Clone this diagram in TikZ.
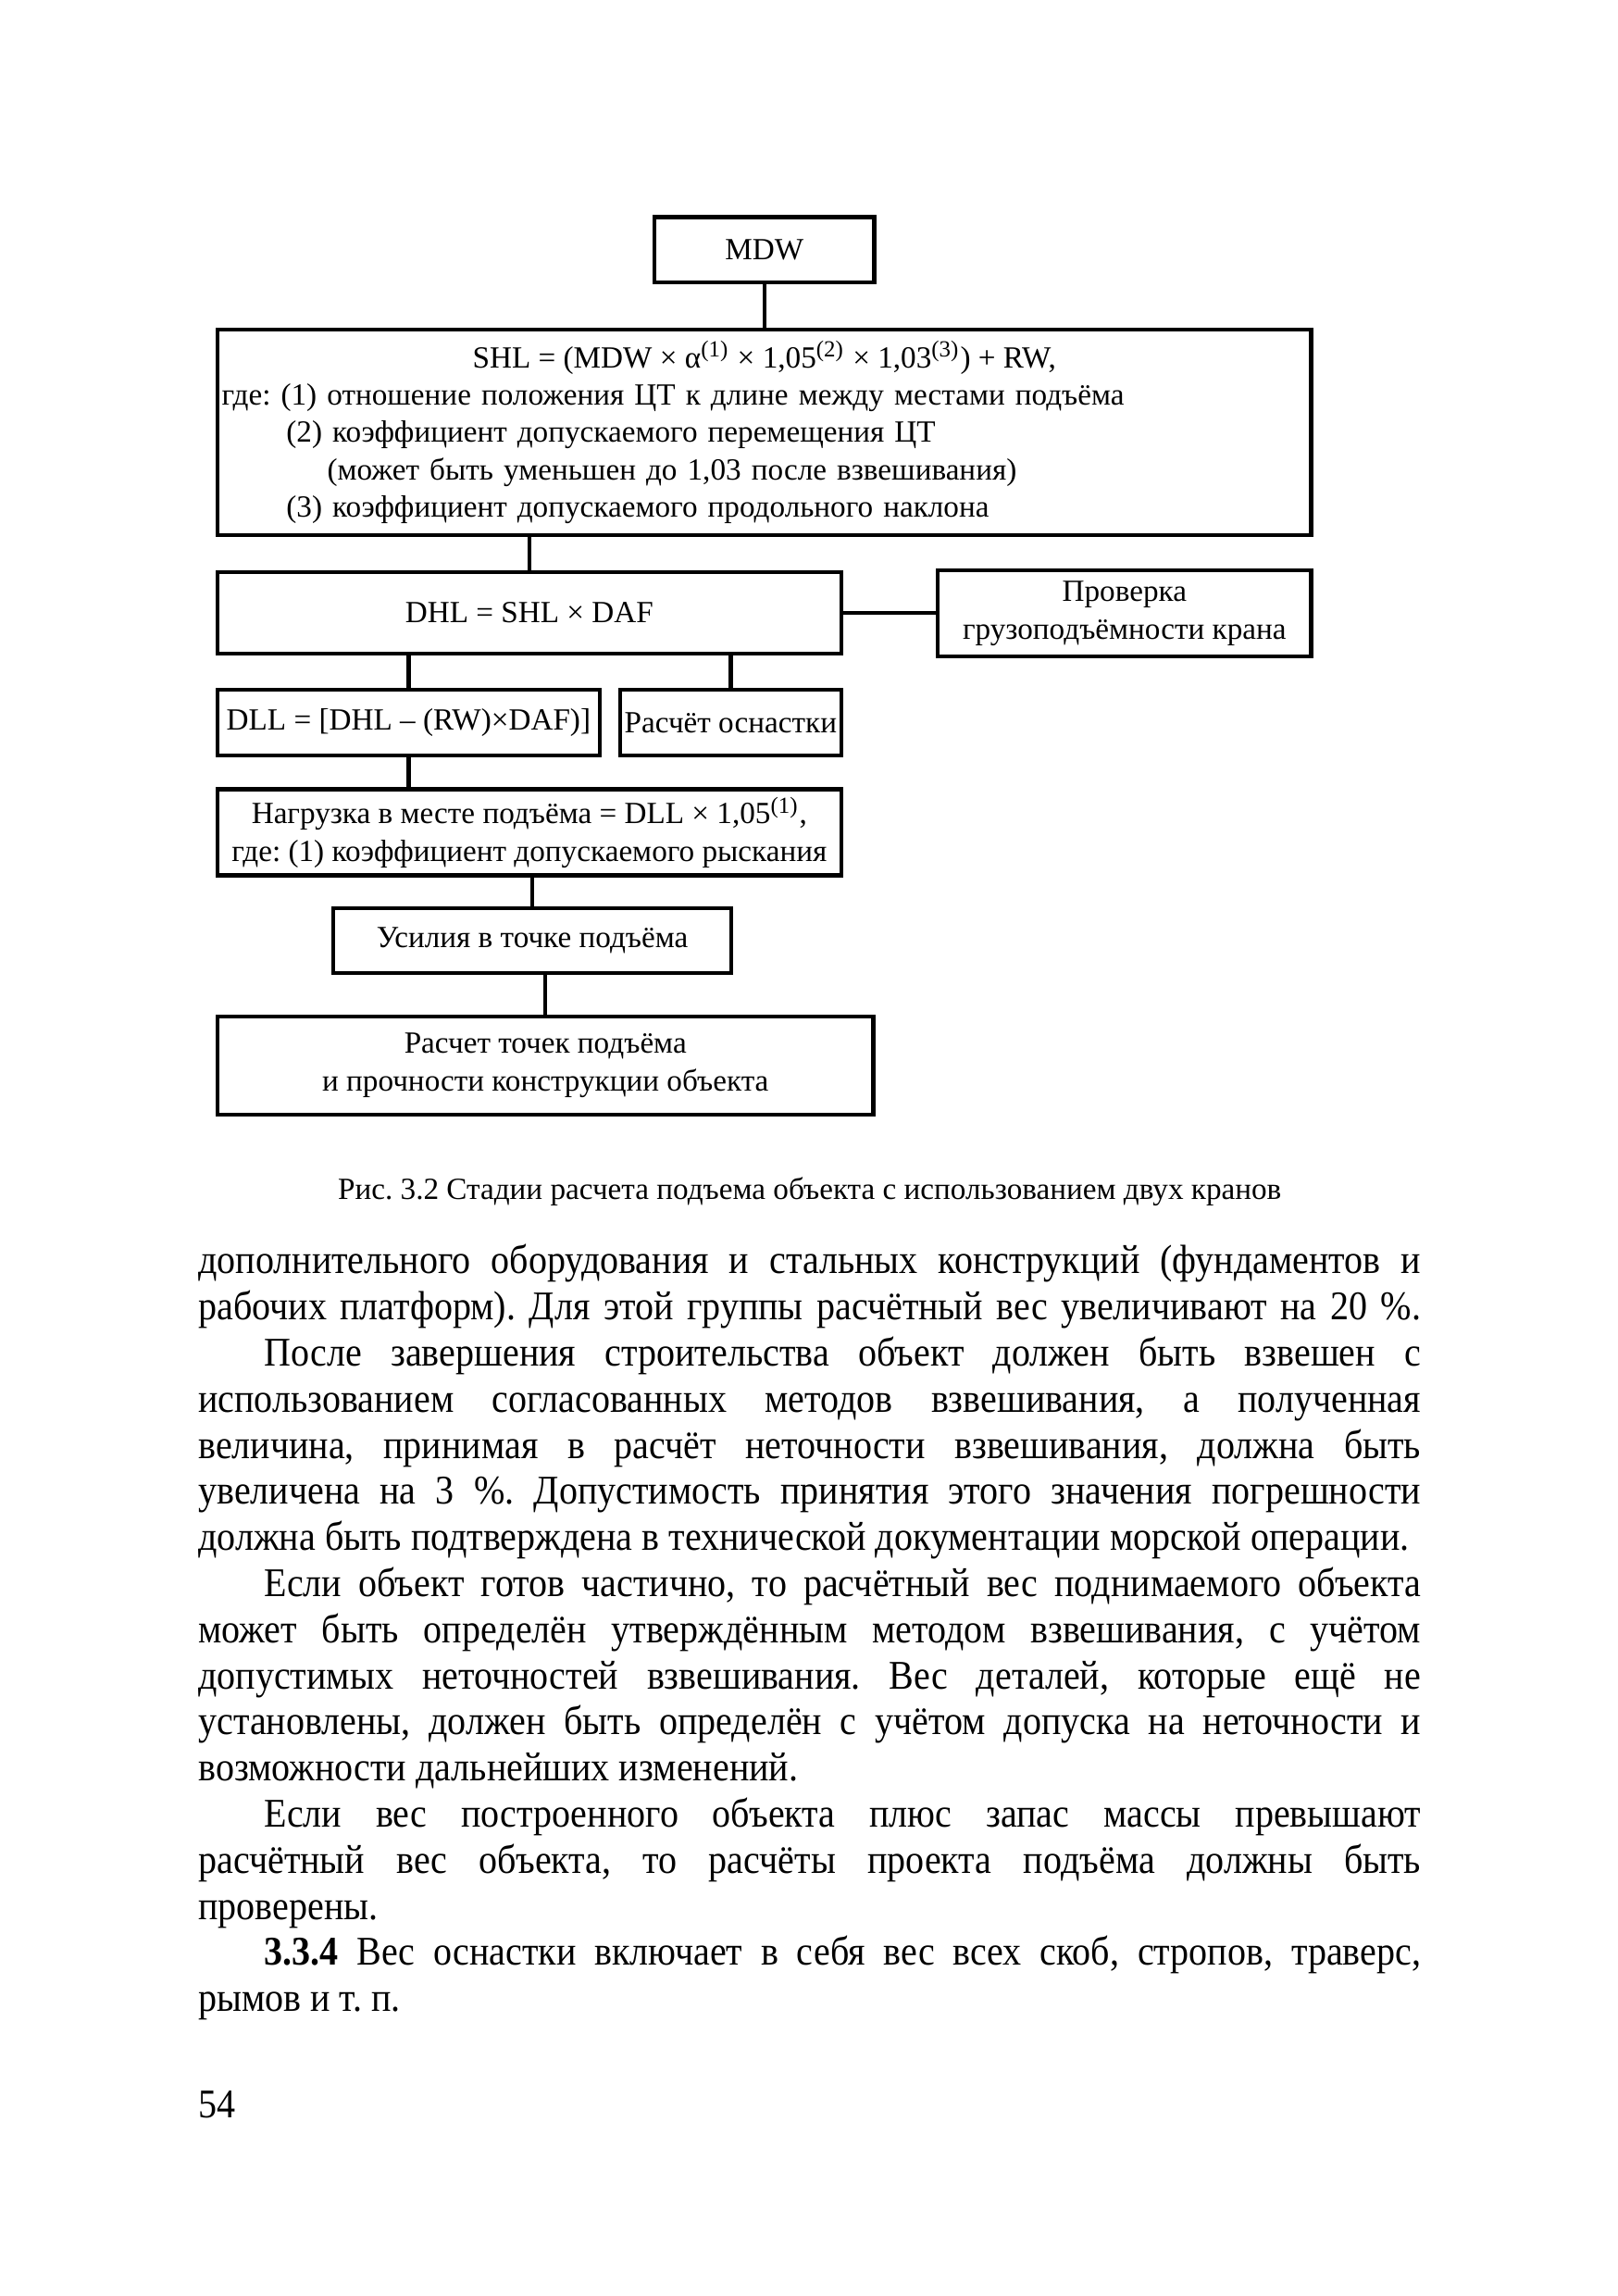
\documentclass[tikz,border=0pt]{standalone}
\usepackage{fontspec}
\setmainfont{Liberation Serif}
\newfontfamily\bodyfamily[FakeStretch=0.91]{Liberation Serif}
\usepackage{tikz}
\usetikzlibrary{positioning}
\newlength{\bodyw}
\setlength{\bodyw}{111.84mm}
\newcommand{\jline}[1]{\makebox[\bodyw][s]{\spaceskip=0pt\xspaceskip=0pt\relax #1}}
\newcommand{\pind}{\hspace*{6.03mm}}
\newcommand{\diagfont}{\fontsize{8}{9.72}\selectfont}
\frenchspacing
\tikzset{
  box/.style={
    rectangle, draw=black, line width=1.05pt,
    inner sep=0.4mm, align=center, font=\diagfont
  },
  link/.style={draw=black, line width=1.05pt},
  caption/.style={font=\fontsize{8}{10}\selectfont},
  bodytext/.style={
    text width=\bodyw, inner sep=0pt, align=justify,
    font=\bodyfamily\fontsize{10.6}{12}\selectfont
  }
}
\begin{document}
\begin{tikzpicture}[node distance=3mm]
  \useasboundingbox (0,0) rectangle (148mm,-210mm);
  % scheme
  \node[box, minimum width=20.09mm, minimum height=5.95mm] (mdw) at (69.92mm,-22.84mm) {MDW};
  \node[box, minimum width=100.05mm, minimum height=18.8mm, text width=99.25mm, align=left,
        below=3.95mm of mdw] (shl) {%
    \makebox[\linewidth]{\spaceskip=0pt\relax SHL = (MDW × α\textsuperscript{(1)} × 1,05\textsuperscript{(2)} × 1,03\textsuperscript{(3)}) + RW,}\\
    где: (1) отношение положения ЦТ к длине между местами подъёма\\
    \hspace*{5.9mm}(2) коэффициент допускаемого перемещения ЦТ\\
    \hspace*{9.64mm}(может быть уменьшен до 1,03 после взвешивания)\\
    \hspace*{5.9mm}(3) коэффициент допускаемого продольного наклона};
  \node[box, minimum width=57.06mm, minimum height=7.5mm,
        below=3.0mm of shl.south west, anchor=north west] (dhl) {DHL = SHL × DAF};
  \node[box, minimum width=34.15mm, minimum height=7.9mm,
        below=2.85mm of shl.south east, anchor=north east] (chk) {Проверка\\грузоподъёмности крана};
  \node[box, minimum width=34.96mm, minimum height=6.03mm,
        below=2.9mm of dhl.south west, anchor=north west] (dll) {DLL = [DHL – (RW)×DAF)]};
  \node[box, minimum width=20.09mm, minimum height=6.03mm,
        below=2.9mm of dhl.south east, anchor=north east] (rig) {Расчёт оснастки};
  \node[box, minimum width=57.06mm, minimum height=7.9mm,
        below=2.7mm of dll.south west, anchor=north west] (load)
        {Нагрузка в месте подъёма = DLL × 1,05\textsuperscript{(1)},\\где: (1) коэффициент допускаемого рыскания};
  \node[box, minimum width=36.43mm, minimum height=5.9mm, below=2.65mm of load, xshift=0.27mm] (force)
        {Усилия в точке подъёма};
  \node[box, minimum width=60mm, minimum height=8.97mm, below=3.6mm of force, xshift=1.2mm] (calc)
        {Расчет точек подъёма\\и прочности конструкции объекта};
  % connectors
  \draw[link] (mdw.south) -- (mdw.south |- shl.north);
  \draw[link] (dhl.north) -- (dhl.north |- shl.south);
  \draw[link] (dhl.east) -- (dhl.east -| chk.west);
  \draw[link] (dll.north) -- (dll.north |- dhl.south);
  \draw[link] (rig.north) -- (rig.north |- dhl.south);
  \draw[link] (dll.south) -- (dll.south |- load.north);
  \draw[link] (force.north) -- (force.north |- load.south);
  \draw[link] (calc.north) -- (calc.north |- force.south);
  % caption and page text
  \node[caption, anchor=base] (cap) at (74.07mm,-109.7mm)
        {Рис. 3.2 Стадии расчета подъема объекта с использованием двух кранов};
  \node[bodytext, anchor=base west] (body) at (18.08mm,-116.5mm) {%
    \jline{дополнительного оборудования и стальных конструкций (фундаментов и}\\
    \jline{рабочих платформ). Для этой группы расчётный вес увеличивают на 20~\%.}\\
    \jline{\pind После завершения строительства объект должен быть взвешен с}\\
    \jline{использованием согласованных методов взвешивания, а полученная}\\
    \jline{величина, принимая в расчёт неточности взвешивания, должна быть}\\
    \jline{увеличена на 3~\%. Допустимость принятия этого значения погрешности}\\
    должна быть подтверждена в технической документации морской операции.\\
    \jline{\pind Если объект готов частично, то расчётный вес поднимаемого объекта}\\
    \jline{может быть определён утверждённым методом взвешивания, с учётом}\\
    \jline{допустимых неточностей взвешивания. Вес деталей, которые ещё не}\\
    \jline{установлены, должен быть определён с учётом допуска на неточности и}\\
    возможности дальнейших изменений.\\
    \jline{\pind Если вес построенного объекта плюс запас массы превышают}\\
    \jline{расчётный вес объекта, то расчёты проекта подъёма должны быть}\\
    проверены.\\
    \jline{\pind\textbf{3.3.4} Вес оснастки включает в себя вес всех скоб, стропов, траверс,}\\
    рымов и т.~п.};
  \node[bodytext, text width=, anchor=base west] (pnum) at (18.08mm,-193.7mm) {54};
\end{tikzpicture}
\end{document}
